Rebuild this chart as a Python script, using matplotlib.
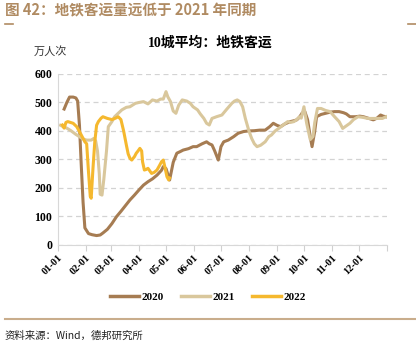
import numpy as np
import matplotlib.pyplot as plt
from matplotlib.lines import Line2D

# day of year -> value (万人次)
days_2020 = [7, 10, 13, 17, 20, 22, 24, 26, 28, 30, 34, 38, 43, 47, 50, 55, 60, 65, 70, 75, 80, 85,
             90, 95, 100, 105, 110, 115, 117, 120, 124, 128, 132, 136, 139, 145, 150, 154, 160, 165,
             168, 171, 174, 178, 181, 184, 189, 195, 200, 206, 211, 218, 224, 230, 235, 239, 243,
             247, 252, 258, 262, 265, 268, 271, 274, 277, 280, 282, 285, 287, 292, 297, 302, 307,
             312, 317, 320, 324, 330, 335, 339, 344, 350, 354, 358, 361, 364]
vals_2020 = [477, 500, 519, 519, 516, 505, 420, 280, 150, 60, 40, 36, 33, 35, 42, 55, 75, 99, 118,
             138, 158, 175, 193, 210, 222, 232, 245, 262, 275, 268, 228, 290, 322, 328, 333, 338,
             345, 345, 355, 362, 355, 351, 330, 298, 345, 362, 368, 380, 392, 398, 400, 401, 403,
             403, 415, 427, 420, 415, 425, 433, 436, 439, 448, 463, 468, 440, 380, 345, 400, 450,
             458, 462, 466, 468, 468, 464, 460, 450, 450, 452, 450, 445, 439, 445, 456, 452, 450]

days_2021 = [3, 6, 10, 15, 20, 24, 28, 32, 37, 40, 42, 44, 46, 47, 49, 51, 54, 56, 60, 63, 67, 71,
             76, 80, 86, 90, 95, 100, 105, 110, 114, 117, 120, 122, 125, 128, 131, 134, 138, 143,
             147, 150, 155, 158, 162, 165, 168, 171, 176, 182, 187, 193, 196, 199, 202, 205, 208,
             212, 215, 218, 221, 225, 230, 234, 237, 241, 245, 250, 255, 258, 262, 265, 268, 270,
             273, 276, 280, 283, 285, 288, 292, 297, 302, 307, 312, 316, 320, 324, 328, 333, 338,
             344, 350, 355, 360, 364]
vals_2021 = [420, 415, 410, 400, 388, 380, 372, 368, 368, 374, 365, 330, 250, 178, 175, 230, 330,
             415, 433, 450, 462, 474, 483, 485, 497, 500, 503, 495, 509, 505, 512, 512, 538, 520,
             503, 470, 462, 490, 509, 505, 497, 485, 474, 460, 444, 427, 421, 444, 450, 456, 475,
             497, 505, 509, 503, 485, 444, 400, 374, 355, 345, 350, 362, 380, 386, 400, 409, 421,
             433, 430, 433, 440, 450, 445, 485, 427, 370, 380, 430, 479, 479, 472, 468, 450, 433,
             409, 418, 427, 440, 450, 448, 444, 444, 444, 444, 450]

days_2022 = [5, 7, 9, 11, 14, 17, 21, 24, 27, 30, 32, 34, 36, 37, 39, 41, 43, 45, 48, 50, 55, 60,
             64, 67, 70, 73, 76, 78, 80, 82, 85, 87, 89, 91, 93, 94, 96, 98, 100, 102, 104, 107,
             110, 113, 115, 117, 119, 121, 123, 124]
vals_2022 = [421, 410, 430, 433, 430, 427, 415, 398, 380, 362, 355, 257, 170, 164, 269, 362, 420,
             433, 445, 450, 444, 440, 445, 450, 440, 400, 351, 320, 304, 298, 310, 322, 330, 339,
             330, 292, 263, 265, 269, 260, 251, 255, 263, 280, 292, 298, 270, 240, 228, 235]

month_starts = [0, 31, 59, 90, 120, 151, 181, 212, 243, 273, 304, 334]
month_labels = ['01-01', '02-01', '03-01', '04-01', '05-01', '06-01',
                '07-01', '08-01', '09-01', '10-01', '11-01', '12-01']

c2020 = '#A67C52'
c2021 = '#D9C79C'
c2022 = '#F5B82E'
brown = '#B08B62'

fig = plt.figure(figsize=(4.16, 3.54), dpi=100)
ax = fig.add_axes([0.139, 0.308, 0.791, 0.483])

ax.plot(days_2020, vals_2020, color=c2020, lw=2.2, label='2020')
ax.plot(days_2021, vals_2021, color=c2021, lw=2.2, label='2021')
ax.plot(days_2022, vals_2022, color=c2022, lw=2.2, label='2022')

ax.set_xlim(0, 365)
ax.set_ylim(0, 600)
ax.set_yticks(range(0, 601, 100))
ax.set_xticks(month_starts + [365])
ax.set_xticklabels(month_labels + [''], rotation=45, ha='right', rotation_mode='anchor',
                   fontfamily='Liberation Serif', fontweight='bold', fontsize=7.5)
for t in ax.get_yticklabels():
    t.set_fontfamily('Liberation Serif')
    t.set_fontweight('bold')
    t.set_fontsize(8.5)
ax.tick_params(axis='x', length=4, color='#D0D0D0', pad=2)
ax.tick_params(axis='y', length=0, pad=4)
ax.grid(axis='y', color='#D3D3D3', linestyle=(0, (4, 3)), lw=0.9)
for s in ['top', 'right']:
    ax.spines[s].set_visible(False)
for s in ['left', 'bottom']:
    ax.spines[s].set_color('#D8D8D8')

handles = [Line2D([], [], color=c, lw=2.5) for c in (c2020, c2021, c2022)]
fig.legend(handles, ['2020', '2021', '2022'], loc='center', bbox_to_anchor=(0.5, 0.16),
           ncol=3, frameon=False, handlelength=2.6, columnspacing=1.6, handletextpad=0.2,
           prop={'family': 'Liberation Serif', 'weight': 'bold', 'size': 8})

fig.text(0.012, 0.972, '图 42：地铁客运量远低于 2021 年同期', color=brown, fontsize=10.5,
         fontweight='bold', family=['Noto Sans CJK SC', 'DejaVu Sans'], va='center')
fig.add_artist(Line2D([5 / 416, 13 / 416], [1 - 24 / 354] * 2, color=brown, lw=1.2))
fig.add_artist(Line2D([408 / 416, 416 / 416], [1 - 24 / 354] * 2, color=brown, lw=1.2))

fig.text(0.505, 1 - 43 / 354, '10城平均：地铁客运', fontsize=10, fontweight='bold',
         family=['Liberation Serif', 'Noto Sans CJK SC'], ha='center', va='center')
fig.text(0.082, 1 - 51 / 354, '万人次', fontsize=8, color='#333333',
         family=['Noto Sans CJK SC'], va='center')

fig.add_artist(Line2D([5 / 416, 1.0], [1 - 319 / 354] * 2, color='#C9AD8C', lw=1.5))
fig.text(0.012, 1 - 336 / 354, '资料来源：Wind，德邦研究所', fontsize=7.5, color='#222222',
         family=['Noto Sans CJK SC', 'DejaVu Sans'], va='center')

fig.savefig('out.png', dpi=100)
